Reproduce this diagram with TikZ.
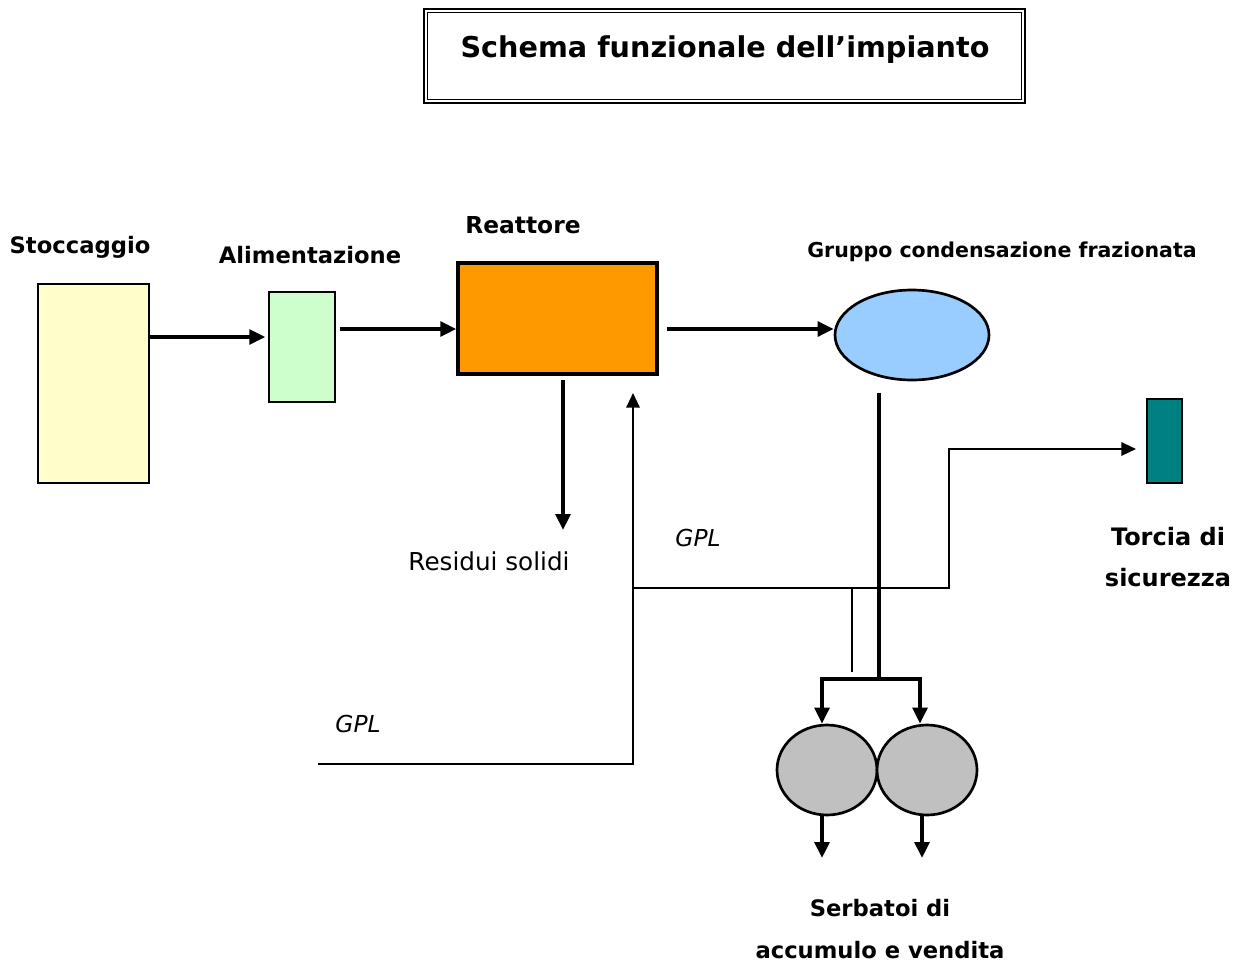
\documentclass[tikz,border=0pt]{standalone}
\usepackage{fontspec}
\setmainfont{DejaVu Sans}
\usetikzlibrary{arrows.meta,shapes.geometric}

\definecolor{giallino}{RGB}{255,255,204}
\definecolor{verdino}{RGB}{204,255,204}
\definecolor{arancio}{RGB}{255,153,0}
\definecolor{azzurro}{RGB}{153,204,255}
\definecolor{ottanio}{RGB}{0,128,128}
\definecolor{grigio}{RGB}{192,192,192}

\tikzset{
  unit/.style={draw, line width=2pt, inner sep=0pt},
  lbl/.style={inner sep=0.75pt, font=\fontsize{17}{20}\selectfont\bfseries},
  note/.style={inner sep=0.75pt, font=\fontsize{18.5}{22}\selectfont},
  flow/.style={line width=2.8pt, -{Triangle[length=12pt,width=11pt]}},
  pipe/.style={line width=1.6pt},
}

\begin{document}
\begin{tikzpicture}[x=0.75pt,y=0.75pt,yscale=-1,xscale=1]
    \useasboundingbox (0,0) rectangle (1237,964);

    % Title
    \node (title) at (724.5,56) [draw, line width=2.2pt, minimum width=450.75pt, minimum height=70.5pt, inner sep=0pt] {};
    \draw [line width=1.2pt] ([xshift=3.75pt,yshift=3.75pt]title.north west) rectangle ([xshift=-3.75pt,yshift=-3.75pt]title.south east);
    \node (titletext) at (725,50) [inner sep=0.75pt, font=\fontsize{21.5}{26}\selectfont\bfseries] {Schema funzionale dell'impianto};

    % Units
    \node (stoccaggio) at (93.5,383.5) [unit, fill=giallino, minimum width=83.25pt, minimum height=149.25pt] {};
    \node (alimentazione) at (302,347) [unit, line width=1.5pt, fill=verdino, minimum width=49.5pt, minimum height=82.5pt] {};
    \node (reattore) at (557.5,318.5) [unit, line width=2.6pt, fill=arancio, minimum width=149.25pt, minimum height=83.25pt] {};
    \node (gruppo) at (912,335) [unit, ellipse, fill=azzurro, minimum width=115.5pt, minimum height=67.5pt] {};
    \node (torcia) at (1164.5,441) [unit, line width=1.5pt, fill=ottanio, minimum width=26.25pt, minimum height=63pt] {};
    \node (serbatoioA) at (827,770) [unit, ellipse, fill=grigio, minimum width=75pt, minimum height=67.5pt] {};
    \node (serbatoioB) at (927,770) [unit, ellipse, fill=grigio, minimum width=75pt, minimum height=67.5pt] {};

    % Text Nodes
    \node (lstoccaggio) at (80,247) [lbl] {Stoccaggio};
    \node (lalimentazione) at (310,255) [lbl] {Alimentazione};
    \node (lreattore) at (523,225) [lbl, font=\fontsize{17.5}{20}\selectfont\bfseries] {Reattore};
    \node (lgruppo) at (1002,252) [lbl, font=\fontsize{15.4}{18}\selectfont\bfseries] {Gruppo condensazione frazionata};
    \node (residui) at (489,561) [note] {Residui solidi};
    \node (gplalto) at (698,538) [note, font=\fontsize{17.5}{20}\selectfont\itshape] {GPL};
    \node (gplbasso) at (358,724) [note, font=\fontsize{17.5}{20}\selectfont\itshape] {GPL};
    \node (ltorcia) at (1168,557) [lbl, align=center, font=\fontsize{18}{31}\selectfont\bfseries] {Torcia di\\sicurezza};
    \node (lserbatoi) at (880,929) [lbl, align=center, font=\fontsize{17}{31.5}\selectfont\bfseries] {Serbatoi di\\accumulo e vendita};

    % Free ends
    \coordinate (fineresidui) at (563,530);
    \coordinate (ingresso) at (318,764);
    \coordinate (nodo) at (633,588);
    \coordinate (diramazione) at (879,679);
    \coordinate (uscitaA) at (822,858);
    \coordinate (uscitaB) at (922,858);

    % Straight Lines
    \draw [flow] (stoccaggio.east |- 0,337) -- ([xshift=-2pt]alimentazione.west |- 0,337);
    \draw [flow] ([xshift=3pt]alimentazione.east |- 0,329) -- (reattore.west |- 0,329);
    \draw [flow] ([xshift=6pt]reattore.east |- 0,329) -- (gruppo.west |- 0,329);
    \draw [flow] (563,380) -- (fineresidui);
    \draw [pipe, -{Triangle[length=11pt,width=10pt]}] (ingresso) -- (633,764) -- (nodo) -- (633,393);
    \draw [pipe, -{Triangle[length=11pt,width=10pt]}] (nodo) -- (949,588) -- (949,449) -- ([xshift=-7.5pt]torcia.west |- 0,449);
    \draw [pipe] (852,588) -- (852,672);
    \draw [line width=2.8pt] (879,393) -- (diramazione);
    \draw [flow] (diramazione) -| (serbatoioA.north -| 822,0);
    \draw [flow] (diramazione) -| (serbatoioB.north -| 920,0);
    \draw [flow] (serbatoioA.south -| uscitaA) -- (uscitaA);
    \draw [flow] (serbatoioB.south -| uscitaB) -- (uscitaB);
\end{tikzpicture}
\end{document}
